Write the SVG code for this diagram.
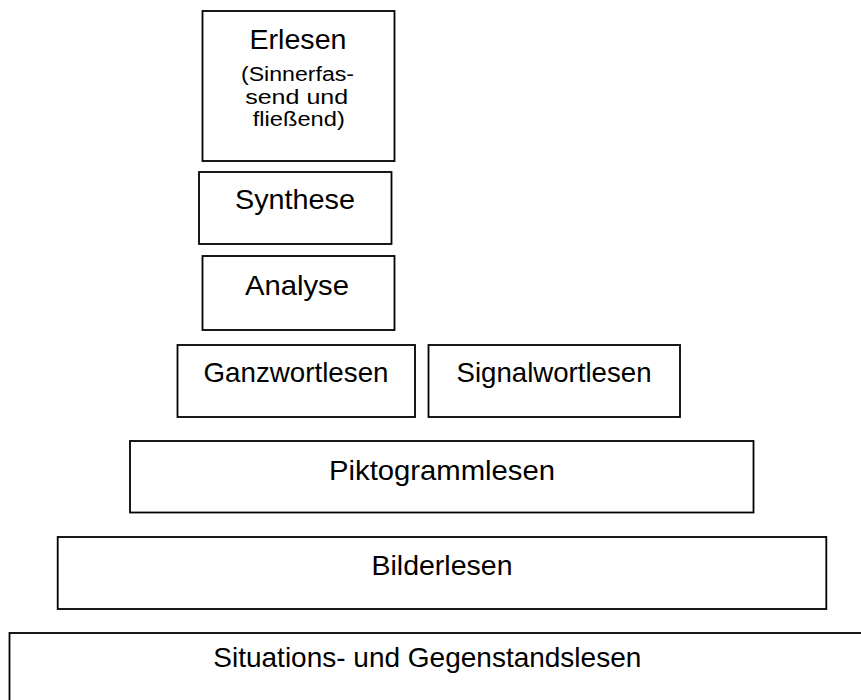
<svg xmlns="http://www.w3.org/2000/svg" width="861" height="700" viewBox="0 0 861 700">
  <style>
    .box { fill: #ffffff; stroke: #000000; stroke-width: 1.8; }
    .lbl { font-family: "Liberation Sans", Arial, sans-serif; font-size: 28px; fill: #000000; text-anchor: middle; }
    .sub { font-family: "Liberation Sans", Arial, sans-serif; font-size: 19.5px; fill: #000000; text-anchor: middle; }
  </style>
  <rect width="861" height="700" fill="#ffffff"/>
  <g id="connectors"></g>
  <g id="erlesen">
    <rect class="box" x="202.5" y="11" width="192" height="150"/>
    <text class="lbl" x="298" y="48.5" textLength="97" lengthAdjust="spacingAndGlyphs">Erlesen</text>
    <text class="sub" x="297.5" y="80.5" textLength="113" lengthAdjust="spacingAndGlyphs">(Sinnerfas-</text>
    <text class="sub" x="296.7" y="103.5" textLength="103" lengthAdjust="spacingAndGlyphs">send und</text>
    <text class="sub" x="298.8" y="126" textLength="92" lengthAdjust="spacingAndGlyphs">fließend)</text>
  </g>
  <g id="synthese">
    <rect class="box" x="199" y="172" width="192.5" height="72"/>
    <text class="lbl" x="295" y="208.5" textLength="120" lengthAdjust="spacingAndGlyphs">Synthese</text>
  </g>
  <g id="analyse">
    <rect class="box" x="202.5" y="256" width="192" height="74"/>
    <text class="lbl" x="297" y="295" textLength="104" lengthAdjust="spacingAndGlyphs">Analyse</text>
  </g>
  <g id="ganzwortlesen">
    <rect class="box" x="177.5" y="345" width="237.5" height="72"/>
    <text class="lbl" x="296" y="381.7" textLength="185" lengthAdjust="spacingAndGlyphs">Ganzwortlesen</text>
  </g>
  <g id="signalwortlesen">
    <rect class="box" x="428.5" y="345" width="251.5" height="72"/>
    <text class="lbl" x="554" y="381.7" textLength="195" lengthAdjust="spacingAndGlyphs">Signalwortlesen</text>
  </g>
  <g id="piktogrammlesen">
    <rect class="box" x="130" y="441" width="623.5" height="71.5"/>
    <text class="lbl" x="442" y="480" textLength="226" lengthAdjust="spacingAndGlyphs">Piktogrammlesen</text>
  </g>
  <g id="bilderlesen">
    <rect class="box" x="57.7" y="537" width="768.6" height="72"/>
    <text class="lbl" x="442" y="575" textLength="141" lengthAdjust="spacingAndGlyphs">Bilderlesen</text>
  </g>
  <g id="situationslesen">
    <rect class="box" x="9.5" y="633" width="870" height="100"/>
    <text class="lbl" x="427.3" y="667" textLength="428" lengthAdjust="spacingAndGlyphs">Situations- und Gegenstandslesen</text>
  </g>
</svg>
